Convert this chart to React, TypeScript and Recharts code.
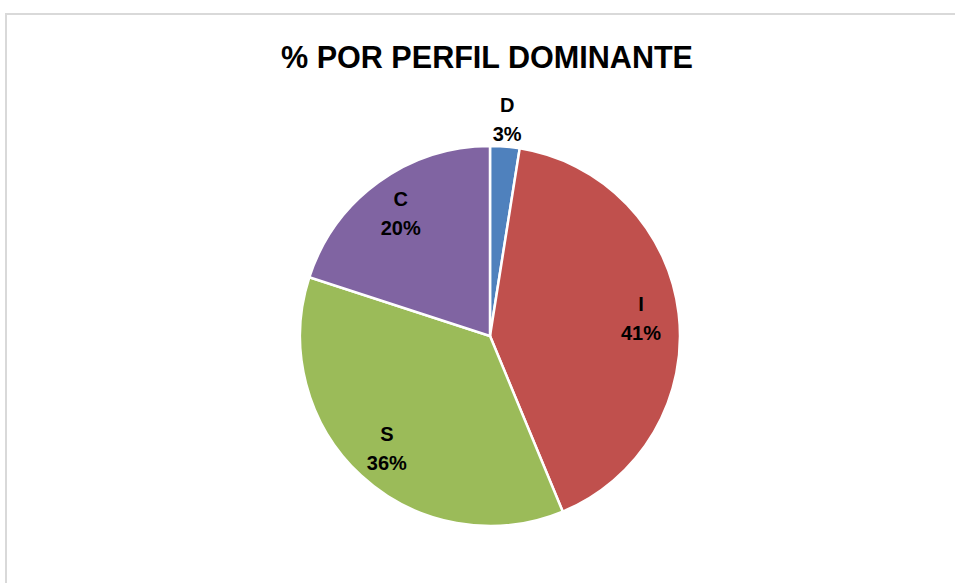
import { PieChart, Pie, Cell } from "recharts";

const PROFILES = ["D", "I", "S", "C"];
const COUNTS = [2, 33, 29, 16];
const COLORS = ["#4F81BD", "#C0504D", "#9BBB59", "#8064A2"];

const TITLE = "% POR PERFIL DOMINANTE";
const FONT = "'Liberation Sans', Arial, sans-serif";

const data = PROFILES.map((name, i) => ({ name, value: COUNTS[i] }));

const RADIAN = Math.PI / 180;

function renderLabel(props: any) {
  const { cx, cy, midAngle, outerRadius, percent, name } = props;
  // small slices get their label outside, the rest inside
  const r = percent < 0.05 ? outerRadius + 28 : outerRadius * 0.8;
  const x = cx + r * Math.cos(-midAngle * RADIAN);
  const y = cy + r * Math.sin(-midAngle * RADIAN);
  return (
    <g>
      <text x={x} y={y - 14} textAnchor="middle" dominantBaseline="central" fontFamily={FONT} fontWeight="bold" fontSize={20} fill="#000">
        {name}
      </text>
      <text x={x} y={y + 15} textAnchor="middle" dominantBaseline="central" fontFamily={FONT} fontWeight="bold" fontSize={20} fill="#000">
        {`${Math.round(percent * 100)}%`}
      </text>
    </g>
  );
}

export default function App() {
  return (
    <div style={{ position: "absolute", left: 0, top: 0, width: 955, height: 583, background: "#fff", overflow: "hidden" }}>
      <div
        style={{
          position: "absolute",
          left: 5,
          top: 13,
          width: 1000,
          height: 600,
          borderLeft: "2px solid #d9d9d9",
          borderTop: "2px solid #d9d9d9",
        }}
      />
      <div style={{ position: "absolute", left: 0, top: 0 }}>
        <PieChart width={955} height={583} margin={{ top: 0, right: 0, bottom: 0, left: 0 }}>
          <text x={487} y={68} textAnchor="middle" fontFamily={FONT} fontWeight="bold" fontSize={32} fill="#000" textLength={412} lengthAdjust="spacingAndGlyphs">
            {TITLE}
          </text>
          <Pie
            data={data}
            dataKey="value"
            nameKey="name"
            cx={490}
            cy={336}
            outerRadius={190}
            startAngle={90}
            endAngle={-270}
            stroke="#fff"
            strokeWidth={2.5}
            label={renderLabel}
            labelLine={false}
            isAnimationActive={false}
          >
            {data.map((d, i) => (
              <Cell key={d.name} fill={COLORS[i]} />
            ))}
          </Pie>
        </PieChart>
      </div>
    </div>
  );
}
